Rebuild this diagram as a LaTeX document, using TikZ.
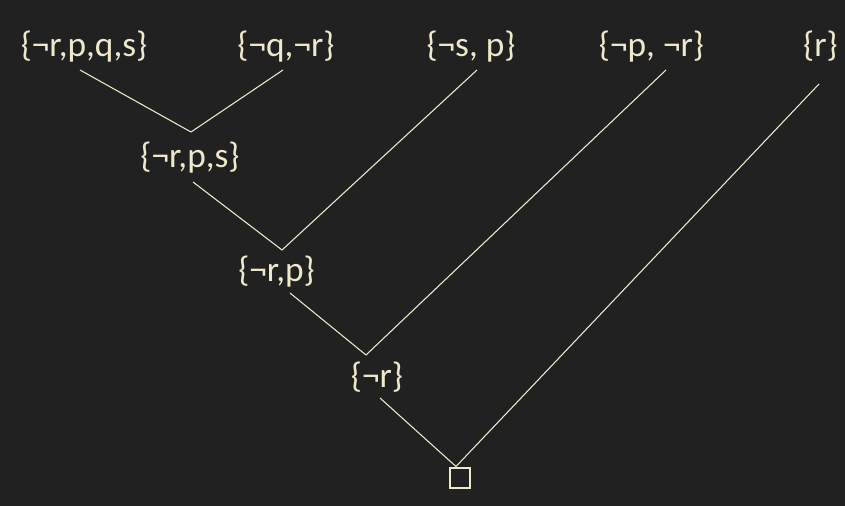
\documentclass[tikz,border=0pt]{standalone}
\usepackage{fontspec}
\setmainfont{Carlito}
\usepackage{tikz}
\usetikzlibrary{positioning}
\definecolor{bg}{RGB}{33,33,33}
\definecolor{ink}{RGB}{238,232,204}
\tikzset{clause/.style={text=ink, anchor=base, inner sep=0pt, font=\fontsize{26.5}{30}\selectfont}}
\tikzset{line/.style={draw=ink, line width=0.8pt}}
\tikzset{empty/.style={draw=ink, line width=1.5pt, minimum size=15pt, inner sep=0pt}}

\begin{document}
\begin{tikzpicture}[x=0.75pt,y=-0.75pt]
			\fill[bg] (0,0) rectangle (845,506);
			\useasboundingbox (0,0) rectangle (845,506);
			\node [clause] (rpqs) at (84,57)    {\{¬r,p,q,s\}};
			\node [clause] (qr)   at (286,57)   {\{¬q,¬r\}};
			\node [clause] (sp)   at (471,57)   {\{¬s, p\}};
			\node [clause] (pr)   at (651.5,57) {\{¬p, ¬r\}};
			\node [clause] (r)    at (820.5,57) {\{r\}};
			\node [clause] (rps)  at (190,167)  {\{¬r,p,s\}};
			\node [clause] (rp)   at (276.5,281) {\{¬r,p\}};
			\node [clause] (nr)   at (377,387)  {\{¬r\}};
			\node [empty]  (box)  at (460,477.5) {};
			%
			\path [line] ([shift={(-4,13)}]rpqs.base) -- ([shift={(1,-35)}]rps.base);
			\path [line] ([shift={(-3,13)}]qr.base)   -- ([shift={(1,-35)}]rps.base);
			\path [line] ([shift={(3,15)}]rps.base)   -- ([shift={(5.5,-31)}]rp.base);
			\path [line] ([shift={(6,13)}]sp.base)    -- ([shift={(5.5,-31)}]rp.base);
			\path [line] ([shift={(13.5,12)}]rp.base) -- ([shift={(-11,-32)}]nr.base);
			\path [line] ([shift={(14.5,13)}]pr.base) -- ([shift={(-11,-32)}]nr.base);
			\path [line] ([shift={(3,11)}]nr.base)    -- ([xshift=-3pt]box.north);
			\path [line] ([shift={(-1.5,27)}]r.base)  -- ([xshift=-3pt]box.north);
\end{tikzpicture}
\end{document}
